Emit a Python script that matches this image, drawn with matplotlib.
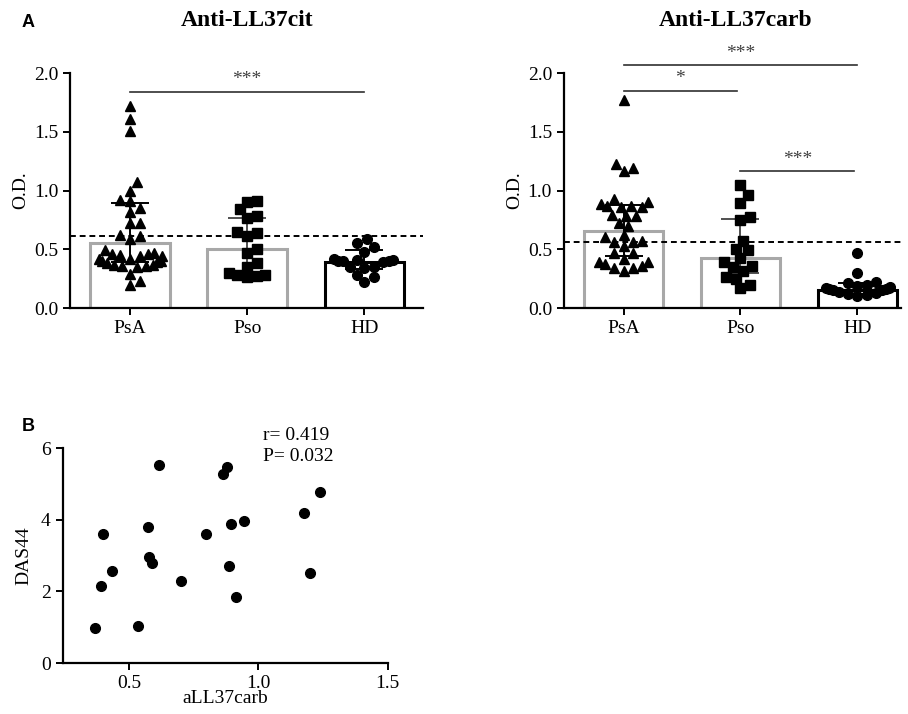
import matplotlib
matplotlib.use("Agg")
import matplotlib.pyplot as plt
import numpy as np

plt.rcParams['font.family'] = ['Liberation Serif', 'DejaVu Serif']

groups = ['PsA', 'Pso', 'HD']

# Anti-LL37cit O.D. values per group
psa_cit = [1.72, 1.61, 1.51, 1.07, 1.00, 0.92, 0.91, 0.85, 0.82, 0.72, 0.72, 0.62,
           0.59, 0.61, 0.47, 0.46, 0.45, 0.44, 0.42, 0.40, 0.39, 0.37, 0.36, 0.35,
           0.36, 0.37, 0.38, 0.40, 0.42, 0.44, 0.46, 0.49, 0.29, 0.20, 0.23]
pso_cit = [0.90, 0.91, 0.84, 0.78, 0.77, 0.65, 0.61, 0.64, 0.47, 0.50, 0.38,
           0.30, 0.28, 0.26, 0.27, 0.28, 0.35]
hd_cit = [0.55, 0.48, 0.52, 0.59, 0.41, 0.40, 0.39, 0.40, 0.41, 0.40, 0.42,
          0.35, 0.34, 0.35, 0.28, 0.26, 0.22]

# Anti-LL37carb O.D. values per group
psa_carb = [1.77, 1.19, 1.165, 1.23, 0.90, 0.866, 0.86, 0.866, 0.889, 0.93, 0.86,
            0.78, 0.79, 0.787, 0.695, 0.723, 0.604, 0.62, 0.57, 0.56, 0.532, 0.56,
            0.467, 0.467, 0.39, 0.376, 0.342, 0.319, 0.342, 0.36, 0.39, 0.419]
pso_carb = [1.045, 0.96, 0.895, 0.775, 0.746, 0.57, 0.496, 0.504, 0.39, 0.424,
            0.348, 0.319, 0.362, 0.248, 0.268, 0.171, 0.199]
hd_carb = [0.467, 0.296, 0.22, 0.21, 0.20, 0.19, 0.18, 0.17, 0.17, 0.16, 0.16,
           0.15, 0.15, 0.14, 0.13, 0.12, 0.11, 0.10]

# bar height and whisker ends
cit_mid = [0.55, 0.50, 0.39]
cit_lo = [0.39, 0.28, 0.33]
cit_hi = [0.89, 0.77, 0.49]
carb_mid = [0.66, 0.43, 0.155]
carb_lo = [0.44, 0.30, 0.12]
carb_hi = [0.875, 0.76, 0.21]
cit_cutoff = 0.61
carb_cutoff = 0.565

# significance: (from group, to group, height, label)
cit_sig = [(0, 2, 1.84, '***')]
carb_sig = [(0, 2, 2.065, '***'), (0, 0.97, 1.85, '*'), (1, 1.97, 1.165, '***')]

# panel B
das_x = [0.369, 0.394, 0.399, 0.434, 0.537, 0.572, 0.576, 0.588, 0.617, 0.70,
         0.796, 0.865, 0.879, 0.885, 0.894, 0.914, 0.946, 1.178, 1.20, 1.238]
das_y = [0.99, 2.15, 3.60, 2.58, 1.03, 3.81, 2.97, 2.80, 5.53, 2.29,
         3.60, 5.27, 5.47, 2.71, 3.88, 1.85, 3.97, 4.20, 2.50, 4.77]

fig = plt.figure(figsize=(9.08, 7.14), dpi=100)


def swarm(ax, center, vals, diam, maxw=0.3):
    # simple beeswarm layout in pixel space, wide rows get squashed
    t = ax.transData
    x0, y0 = t.transform((0, 0))
    x1, y1 = t.transform((1, 1))
    sx, sy = x1 - x0, y1 - y0
    order = np.argsort(vals)
    placed = []
    offs = np.zeros(len(vals))
    step = diam / 4.0
    for i in order:
        py = vals[i] * sy
        ok = 0.0
        for k in range(0, 400):
            cands = [0] if k == 0 else [k, -k]
            found = False
            for c in cands:
                px = c * step
                if all((px - qx) ** 2 + (py - qy) ** 2 >= diam ** 2 for qx, qy in placed):
                    ok = px
                    found = True
                    break
            if found:
                break
        placed.append((ok, py))
        offs[i] = ok / sx
    offs = maxw * np.tanh(offs / maxw)
    return center + offs


def bar_panel(rect, title, tx, data, mid, lo, hi, cutoff, sigs, xmax):
    ax = fig.add_axes(rect)
    ax.set_xlim(-0.51, xmax)
    ax.set_ylim(0, 2.0)
    x = np.arange(3)
    edges = ['#a8a8a8', '#a8a8a8', 'black']
    ax.bar(x, mid, width=0.68, color='white', edgecolor=edges, linewidth=2.2, zorder=1)
    ax.axhline(cutoff, color='black', ls=(0, (3, 2)), lw=1.4, zorder=2)
    ecols = ['black', '#505050', 'black']
    for i in range(3):
        ax.errorbar(x[i], mid[i], yerr=[[mid[i] - lo[i]], [hi[i] - mid[i]]],
                    fmt='none', ecolor=ecols[i], elinewidth=1.4, capsize=14,
                    capthick=1.4, zorder=3)
    markers = ['^', 's', 'o']
    for i, vals in enumerate(data):
        xs = swarm(ax, i, vals, 10.0)
        ax.plot(xs, vals, ls='none', marker=markers[i], ms=7 if i != 1 else 6.5,
                color='black', zorder=4, clip_on=False)
    for a, b, y, lab in sigs:
        ax.plot([a, b], [y, y], color='#303030', lw=1.2, clip_on=False)
        ax.text((a + b) / 2, y + 0.03, lab, ha='center', va='bottom',
                fontsize=14, color='#404040')
    ax.spines['top'].set_visible(False)
    ax.spines['right'].set_visible(False)
    ax.spines['left'].set_linewidth(1.6)
    ax.spines['bottom'].set_linewidth(1.6)
    ax.set_xticks(x)
    ax.set_xticklabels(groups)
    ax.set_yticks([0, 0.5, 1.0, 1.5, 2.0])
    ax.set_yticklabels(['0.0', '0.5', '1.0', '1.5', '2.0'])
    ax.tick_params(labelsize=14, width=1.4, length=5, direction='out')
    ax.set_ylabel('O.D.', fontsize=14, labelpad=3)
    fig.text(tx, 0.971, title, fontsize=17, fontweight='bold', ha='center', va='center')
    return ax


bar_panel([0.077, 0.5686, 0.389, 0.329], 'Anti-LL37cit', 0.272,
          [psa_cit, pso_cit, hd_cit], cit_mid, cit_lo, cit_hi, cit_cutoff, cit_sig, 2.5)
bar_panel([0.621, 0.5686, 0.371, 0.329], 'Anti-LL37carb', 0.81,
          [psa_carb, pso_carb, hd_carb], carb_mid, carb_lo, carb_hi, carb_cutoff, carb_sig, 2.37)

axb = fig.add_axes([0.069, 0.0714, 0.358, 0.301])
axb.plot(das_x, das_y, ls='none', marker='o', ms=7, color='black', clip_on=False)
axb.set_xlim(0.244, 1.5)
axb.set_ylim(0, 6)
axb.set_xticks([0.5, 1.0, 1.5])
axb.set_yticks([0, 2, 4, 6])
axb.spines['top'].set_visible(False)
axb.spines['right'].set_visible(False)
axb.spines['left'].set_linewidth(1.6)
axb.spines['bottom'].set_linewidth(1.6)
axb.tick_params(labelsize=14, width=1.4, length=5, direction='out')
axb.set_xlabel('aLL37carb', fontsize=14, labelpad=-1)
axb.set_ylabel('DAS44', fontsize=14, labelpad=6)
axb.text(1.02, 6.6, 'r= 0.419\nP= 0.032', fontsize=14, va='top', ha='left',
         linespacing=1.3)

fig.text(0.024, 0.969, 'A', fontsize=13, fontweight='bold', family='Liberation Sans',
         ha='left', va='center')
fig.text(0.024, 0.403, 'B', fontsize=13, fontweight='bold', family='Liberation Sans',
         ha='left', va='center')

fig.savefig('out.png', dpi=100)
